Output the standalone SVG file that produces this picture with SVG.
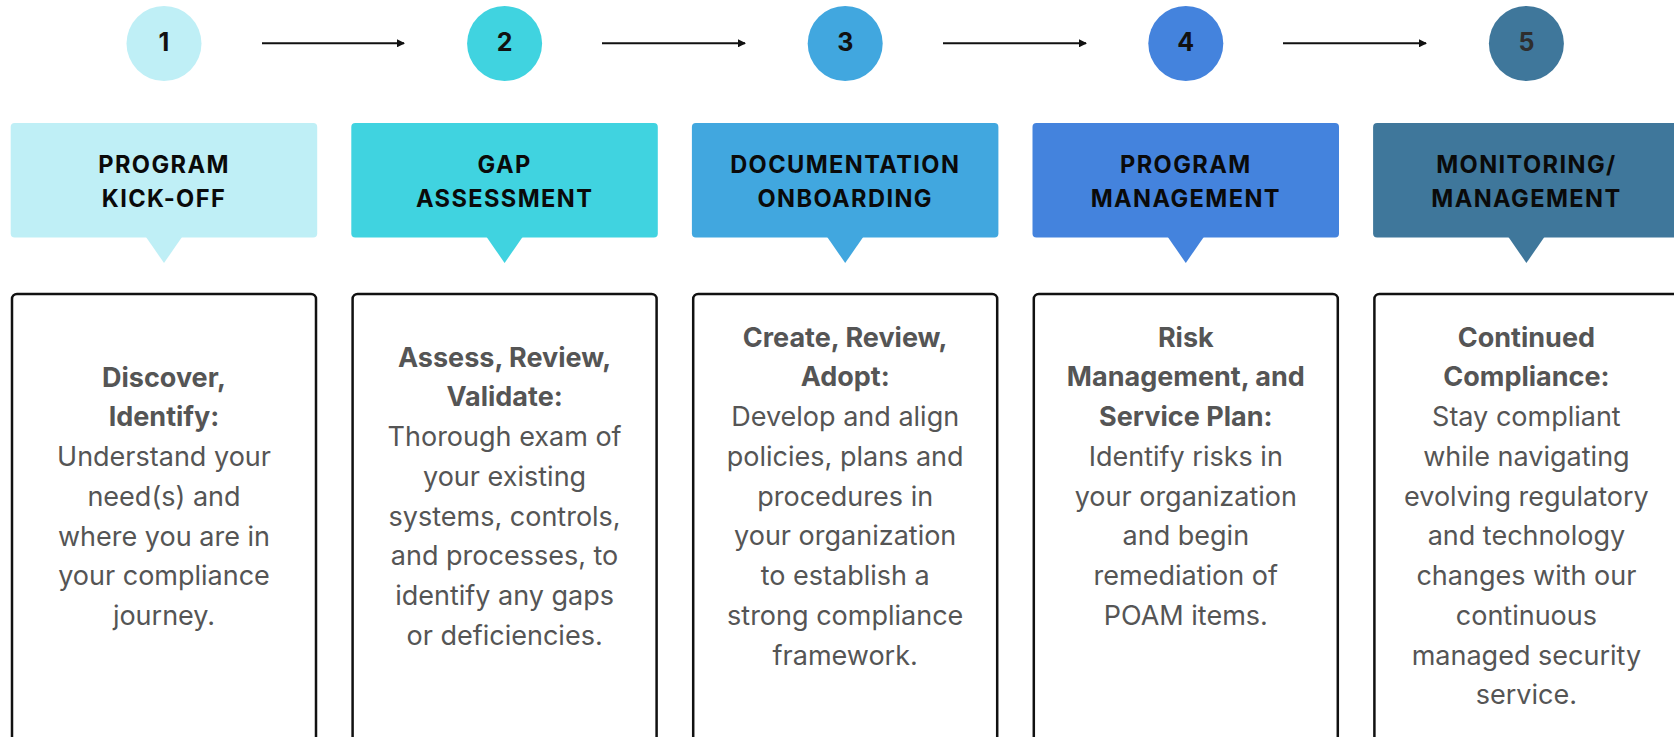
<svg xmlns="http://www.w3.org/2000/svg" width="1674" height="737" viewBox="0 0 1674 737">
<defs>
<style>
.num{font-family:Inter,"Liberation Sans",sans-serif;font-weight:700;font-size:25px;text-anchor:middle;fill:#111}
.hd{font-family:Inter,"Liberation Sans",sans-serif;font-weight:700;font-size:23.6px;letter-spacing:1.4px;text-anchor:middle;fill:#0a0a0a}
.card{fill:#fff;stroke:#111;stroke-width:2.5}
.bt{font-family:Inter,"Liberation Sans",sans-serif;font-size:27px;text-anchor:middle;fill:#555}
.bt .b{font-weight:700}
.conn{stroke:#111;stroke-width:2;fill:none}
</style>
<marker id="ah" viewBox="0 0 8 8" refX="7" refY="4" markerWidth="8" markerHeight="8" markerUnits="userSpaceOnUse" orient="auto">
<path d="M0,0 L8,4 L0,8 Z" fill="#111"/>
</marker>
</defs>
<rect width="1674" height="737" fill="#fff"/>

<g id="connectors">
<line class="conn" x1="262" y1="43.3" x2="404" y2="43.3" marker-end="url(#ah)"/>
<line class="conn" x1="602" y1="43.3" x2="745" y2="43.3" marker-end="url(#ah)"/>
<line class="conn" x1="943" y1="43.3" x2="1086" y2="43.3" marker-end="url(#ah)"/>
<line class="conn" x1="1283" y1="43.3" x2="1426" y2="43.3" marker-end="url(#ah)"/>
</g>

<g id="step1">
<circle cx="164" cy="43.5" r="37.5" fill="#BFEFF6"/>
<text class="num" x="164" y="51">1</text>
<rect x="10.7" y="123" width="306.5" height="114.5" rx="4" fill="#BFEFF6"/>
<polygon points="146,237 182,237 164,263" fill="#BFEFF6"/>
<text class="hd" x="164" y="172.8">PROGRAM</text>
<text class="hd" x="164" y="206.5">KICK-OFF</text>
<rect class="card" x="12" y="294" width="304" height="480" rx="5"/>
<text class="bt" x="164"><tspan class="b" x="164" y="386.5">Discover,</tspan><tspan class="b" x="164" y="426.25">Identify:</tspan><tspan x="164" y="466">Understand your</tspan><tspan x="164" y="505.75">need(s) and</tspan><tspan x="164" y="545.5">where you are in</tspan><tspan x="164" y="585.25">your compliance</tspan><tspan x="164" y="625">journey.</tspan></text>
</g>

<g id="step2">
<circle cx="504.6" cy="43.5" r="37.5" fill="#40D3E0"/>
<text class="num" x="504.6" y="51">2</text>
<rect x="351.3" y="123" width="306.5" height="114.5" rx="4" fill="#40D3E0"/>
<polygon points="486.6,237 522.6,237 504.6,263" fill="#40D3E0"/>
<text class="hd" x="504.6" y="172.8">GAP</text>
<text class="hd" x="504.6" y="206.5">ASSESSMENT</text>
<rect class="card" x="352.6" y="294" width="304" height="480" rx="5"/>
<text class="bt" x="504.6"><tspan class="b" x="504.6" y="366.6">Assess, Review,</tspan><tspan class="b" x="504.6" y="406.35">Validate:</tspan><tspan x="504.6" y="446.1">Thorough exam of</tspan><tspan x="504.6" y="485.85">your existing</tspan><tspan x="504.6" y="525.6">systems, controls,</tspan><tspan x="504.6" y="565.35">and processes, to</tspan><tspan x="504.6" y="605.1">identify any gaps</tspan><tspan x="504.6" y="644.85">or deficiencies.</tspan></text>
</g>

<g id="step3">
<circle cx="845.2" cy="43.5" r="37.5" fill="#41A7DF"/>
<text class="num" x="845.2" y="51">3</text>
<rect x="691.9" y="123" width="306.5" height="114.5" rx="4" fill="#41A7DF"/>
<polygon points="827.2,237 863.2,237 845.2,263" fill="#41A7DF"/>
<text class="hd" x="845.2" y="172.8">DOCUMENTATION</text>
<text class="hd" x="845.2" y="206.5">ONBOARDING</text>
<rect class="card" x="693.2" y="294" width="304" height="480" rx="5"/>
<text class="bt" x="845.2"><tspan class="b" x="845.2" y="346.5">Create, Review,</tspan><tspan class="b" x="845.2" y="386.25">Adopt:</tspan><tspan x="845.2" y="426">Develop and align</tspan><tspan x="845.2" y="465.75">policies, plans and</tspan><tspan x="845.2" y="505.5">procedures in</tspan><tspan x="845.2" y="545.25">your organization</tspan><tspan x="845.2" y="585">to establish a</tspan><tspan x="845.2" y="624.75">strong compliance</tspan><tspan x="845.2" y="664.5">framework.</tspan></text>
</g>

<g id="step4">
<circle cx="1185.8" cy="43.5" r="37.5" fill="#4483DD"/>
<text class="num" x="1185.8" y="51">4</text>
<rect x="1032.5" y="123" width="306.5" height="114.5" rx="4" fill="#4483DD"/>
<polygon points="1167.8,237 1203.8,237 1185.8,263" fill="#4483DD"/>
<text class="hd" x="1185.8" y="172.8">PROGRAM</text>
<text class="hd" x="1185.8" y="206.5">MANAGEMENT</text>
<rect class="card" x="1033.8" y="294" width="304" height="480" rx="5"/>
<text class="bt" x="1185.8"><tspan class="b" x="1185.8" y="346.5">Risk</tspan><tspan class="b" x="1185.8" y="386.25">Management, and</tspan><tspan class="b" x="1185.8" y="426">Service Plan:</tspan><tspan x="1185.8" y="465.75">Identify risks in</tspan><tspan x="1185.8" y="505.5">your organization</tspan><tspan x="1185.8" y="545.25">and begin</tspan><tspan x="1185.8" y="585">remediation of</tspan><tspan x="1185.8" y="624.75">POAM items.</tspan></text>
</g>

<g id="step5">
<circle cx="1526.4" cy="43.5" r="37.5" fill="#3F779B"/>
<text class="num" x="1526.4" y="51" style="fill:#2e2e2e">5</text>
<rect x="1373.1" y="123" width="306.5" height="114.5" rx="4" fill="#3F779B"/>
<polygon points="1508.4,237 1544.4,237 1526.4,263" fill="#3F779B"/>
<text class="hd" x="1526.4" y="172.8">MONITORING/</text>
<text class="hd" x="1526.4" y="206.5">MANAGEMENT</text>
<rect class="card" x="1374.4" y="294" width="304" height="480" rx="5"/>
<text class="bt" x="1526.4"><tspan class="b" x="1526.4" y="346.5">Continued</tspan><tspan class="b" x="1526.4" y="386.25">Compliance:</tspan><tspan x="1526.4" y="426">Stay compliant</tspan><tspan x="1526.4" y="465.75">while navigating</tspan><tspan x="1526.4" y="505.5">evolving regulatory</tspan><tspan x="1526.4" y="545.25">and technology</tspan><tspan x="1526.4" y="585">changes with our</tspan><tspan x="1526.4" y="624.75">continuous</tspan><tspan x="1526.4" y="664.5">managed security</tspan><tspan x="1526.4" y="704.25">service.</tspan></text>
</g>
</svg>
